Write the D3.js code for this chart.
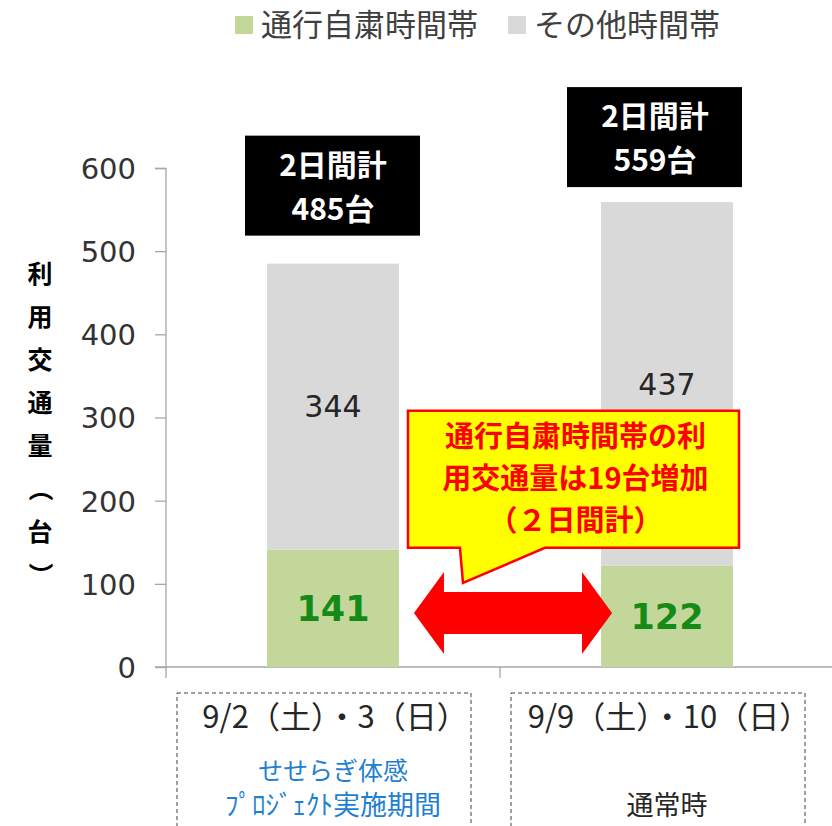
<!DOCTYPE html>
<html>
<head>
<meta charset="utf-8">
<script src="https://cdn.jsdelivr.net/npm/d3@7"></script>
<style>
  body { margin: 0; background: #fff; }
  svg text { font-family: "Noto Sans CJK JP", "DejaVu Sans", sans-serif; }
</style>
</head>
<body>
<script>
// data
var categories = ["9/2（土）・3（日）", "9/9（土）・10（日）"];
var subLabels = [["せせらぎ体感", "ﾌﾟﾛｼﾞｪｸﾄ実施期間"], ["", "通常時"]];
var restricted = [141, 122];   // 通行自粛時間帯
var others = [344, 437];       // その他時間帯
var totals = [485, 559];
var seriesNames = ["通行自粛時間帯", "その他時間帯"];
var yTicks = [0, 100, 200, 300, 400, 500, 600];
var yTitle = "利用交通量（台）";
var calloutLines = ["通行自粛時間帯の利", "用交通量は19台増加", "（２日間計）"];

// svg container
var width = 832;
var height = 826;

var margin = { top: 168, right: -2, bottom: 159, left: 166 };
var chartWidth = width - margin.left - margin.right;
var chartHeight = height - margin.top - margin.bottom;

var colors = ["#c4d79b", "#d9d9d9"];

var svg = d3.select("body").append("svg")
    .attr("width", width)
    .attr("height", height);

var chartGroup = svg.append("g")
    .attr("transform", `translate(${margin.left}, ${margin.top})`);

// scales
var yScale = d3.scaleLinear()
    .domain([0, 600])
    .range([chartHeight, 0]);

var xScale = d3.scaleBand()
    .domain(categories)
    .range([0, chartWidth])
    .paddingInner(0.605)
    .paddingOuter(0.3025);

// y axis
var yAxis = chartGroup.append("g")
    .call(d3.axisLeft(yScale).tickValues(yTicks).tickSize(11).tickPadding(19));
yAxis.selectAll("line, path").attr("stroke", "#a6a6a6").attr("stroke-width", 1.3);
yAxis.select(".domain").attr("d", `M-11,0.5H0V${chartHeight}`);
yAxis.selectAll("text")
    .attr("font-size", 29)
    .attr("fill", "#333")
    .style("font-family", "'DejaVu Sans', sans-serif")
    .attr("dy", "0.36em");

// x axis (baseline + ticks)
chartGroup.append("line")
    .attr("x1", -11).attr("x2", chartWidth)
    .attr("y1", chartHeight).attr("y2", chartHeight)
    .attr("stroke", "#a6a6a6").attr("stroke-width", 1.3);
var step = xScale.step();
[0, step].forEach(function (tx) {
  chartGroup.append("line")
    .attr("x1", tx).attr("x2", tx)
    .attr("y1", chartHeight).attr("y2", chartHeight + 11)
    .attr("stroke", "#a6a6a6").attr("stroke-width", 1.3);
});

// stacked bars
var stackData = categories.map((c, i) => ({ cat: c, a: restricted[i], b: others[i] }));
var stacked = d3.stack().keys(["a", "b"])(stackData);

chartGroup.selectAll(".series")
    .data(stacked)
    .enter()
    .append("g")
    .attr("fill", (d, i) => colors[i])
    .selectAll("rect")
    .data(d => d)
    .enter()
    .append("rect")
    .attr("x", d => xScale(d.data.cat))
    .attr("y", d => yScale(d[1]))
    .attr("width", xScale.bandwidth())
    .attr("height", d => yScale(d[0]) - yScale(d[1]));

// value labels
chartGroup.selectAll(".lblA")
    .data(stackData)
    .enter()
    .append("text")
    .attr("x", d => xScale(d.cat) + xScale.bandwidth() / 2)
    .attr("y", d => yScale(d.a / 2))
    .attr("dy", "0.36em")
    .attr("text-anchor", "middle")
    .attr("font-size", 35)
    .attr("font-weight", "bold")
    .attr("fill", "#168a16")
    .style("font-family", "'DejaVu Sans', sans-serif")
    .text(d => d.a);

chartGroup.selectAll(".lblB")
    .data(stackData)
    .enter()
    .append("text")
    .attr("x", d => xScale(d.cat) + xScale.bandwidth() / 2)
    .attr("y", d => yScale(d.a + d.b / 2))
    .attr("dy", "0.36em")
    .attr("text-anchor", "middle")
    .attr("font-size", 30)
    .attr("fill", "#262626")
    .style("font-family", "'DejaVu Sans', sans-serif")
    .text(d => d.b);

// total boxes (black)
var boxShift = [{ dx: 0, dy: -128 }, { dx: -12, dy: -115 }];
totals.forEach(function (t, i) {
  var cx = xScale(categories[i]) + xScale.bandwidth() / 2 + boxShift[i].dx;
  var top = yScale(t) + boxShift[i].dy;
  var g = chartGroup.append("g");
  g.append("rect")
    .attr("x", cx - 88).attr("y", top)
    .attr("width", 175).attr("height", 100)
    .attr("fill", "#000");
  var tx = g.append("text")
    .attr("text-anchor", "middle")
    .attr("font-size", 30).attr("font-weight", "bold")
    .attr("fill", "#fff");
  tx.append("tspan").attr("x", cx).attr("y", top + 40).text("2日間計");
  tx.append("tspan").attr("x", cx).attr("y", top + 84).text(t + "台");
});

// double arrow between green segments
var ax1 = xScale(categories[0]) + xScale.bandwidth() + 15;
var ax2 = xScale(categories[1]) + 11;
var ay = yScale(65);
var head = 30, hh = 41, sh = 21;
chartGroup.append("path")
    .attr("d", `M${ax1},${ay} L${ax1 + head},${ay - hh} L${ax1 + head},${ay - sh} L${ax2 - head},${ay - sh} L${ax2 - head},${ay - hh} L${ax2},${ay} L${ax2 - head},${ay + hh} L${ax2 - head},${ay + sh} L${ax1 + head},${ay + sh} L${ax1 + head},${ay + hh} Z`)
    .attr("fill", "#ff0000");

// callout
var bx = xScale(categories[0]) + xScale.bandwidth() + 9;
var bw = 331, by = yScale(308), bh = 137;
var tip = { x: bx + 55, y: ay - 30 };
chartGroup.append("path")
    .attr("d", `M${bx},${by} H${bx + bw} V${by + bh} H${bx + 137} L${tip.x},${tip.y} L${bx + 52},${by + bh} H${bx} Z`)
    .attr("fill", "#ffff00")
    .attr("stroke", "#ff0000")
    .attr("stroke-width", 2.5)
    .attr("stroke-linejoin", "miter");
var callText = chartGroup.append("text")
    .attr("text-anchor", "middle")
    .attr("font-size", 29)
    .attr("font-weight", "bold")
    .attr("fill", "#ff0000");
calloutLines.forEach(function (line, i) {
  callText.append("tspan")
    .attr("x", bx + bw / 2 + 2)
    .attr("y", by + 36 + i * 42)
    .text(line);
});

// category boxes (dashed) + labels
categories.forEach(function (c, i) {
  var x0 = i * step + 11;
  chartGroup.append("rect")
    .attr("x", x0).attr("y", chartHeight + 26)
    .attr("width", 294).attr("height", 200)
    .attr("fill", "none")
    .attr("stroke", "#404040")
    .attr("stroke-width", 1)
    .attr("stroke-dasharray", "4,3");
  var cx = xScale(c) + xScale.bandwidth() / 2;
  chartGroup.append("text")
    .attr("x", cx + 2).attr("y", chartHeight + 61)
    .attr("text-anchor", "middle")
    .attr("font-size", 31)
    .attr("fill", "#262626")
    .text(c);
  var sub = chartGroup.append("text")
    .attr("text-anchor", "middle")
    .attr("fill", i === 0 ? "#1f7fd0" : "#262626");
  subLabels[i].forEach(function (s, j) {
    sub.append("tspan")
      .attr("x", cx).attr("y", chartHeight + 113 + j * 35)
      .attr("font-size", j === 0 ? 25 : 27)
      .text(s);
  });
});

// y title (vertical)
var titleChars = Array.from(yTitle);
svg.selectAll(".ytitle")
    .data(titleChars)
    .enter()
    .append("text")
    .attr("x", 40)
    .attr("y", (d, i) => 283 + i * 43)
    .attr("text-anchor", "middle")
    .attr("font-size", 25)
    .attr("font-weight", "bold")
    .attr("fill", "#000")
    .attr("transform", (d, i) => (d === "（" || d === "）") ? `rotate(90, 40, ${274 + i * 43})` : null)
    .text(d => d);

// legend
var legendX = [235, 508];
seriesNames.forEach(function (n, i) {
  svg.append("rect")
    .attr("x", legendX[i]).attr("y", 16)
    .attr("width", 18).attr("height", 18)
    .attr("fill", colors[i]);
  svg.append("text")
    .attr("x", legendX[i] + 26).attr("y", 36)
    .attr("font-size", 31)
    .attr("fill", "#404040")
    .text(n);
});
</script>
</body>
</html>
